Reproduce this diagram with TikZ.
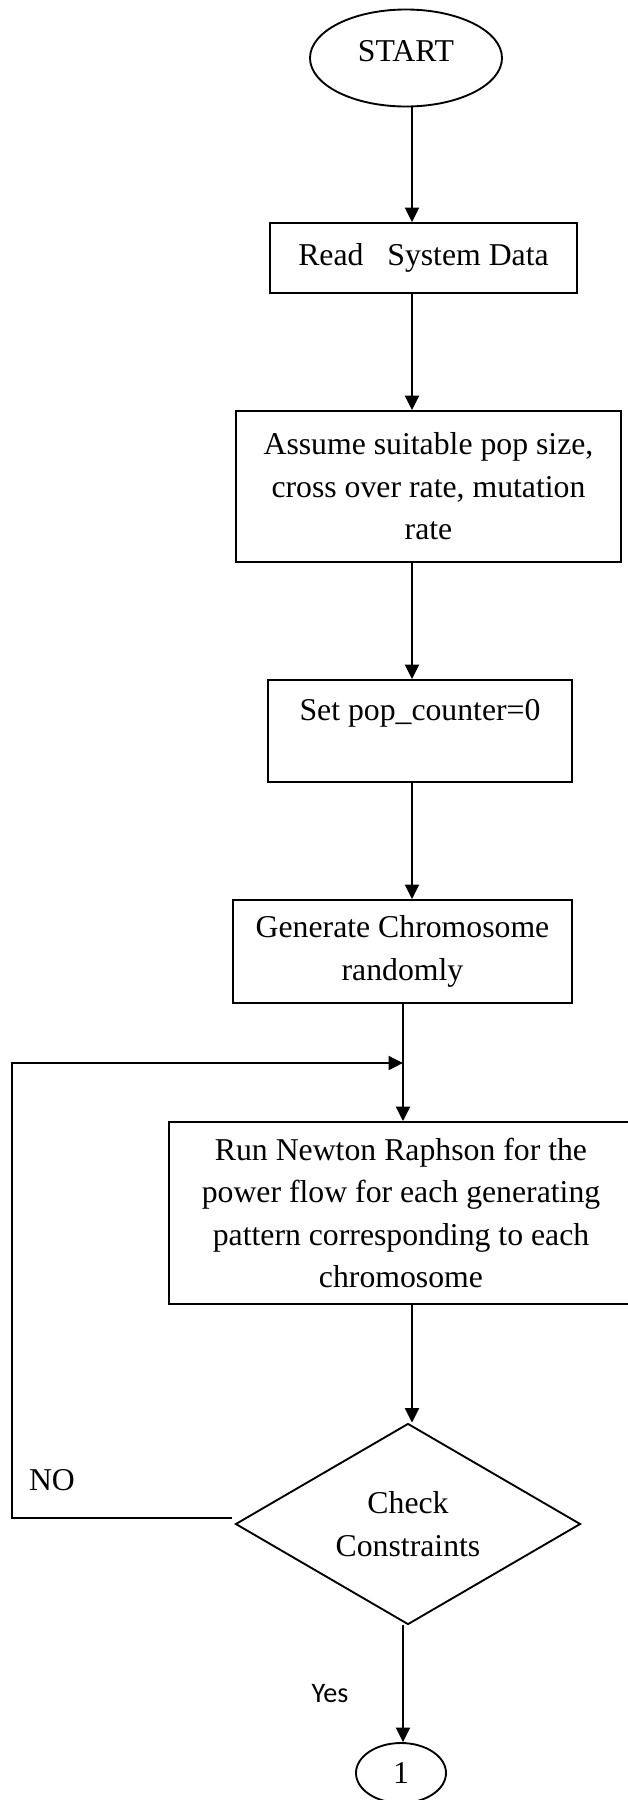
\documentclass[tikz,border=0pt]{standalone}
\usepackage{fontspec}
\setmainfont{Liberation Serif}
\newfontfamily\yesfont{Carlito}
\usetikzlibrary{shapes.geometric,arrows.meta}
\begin{document}
\begin{tikzpicture}[x=0.4pt,y=-0.4pt,
  every node/.style={font=\fontsize{12.7}{17}\selectfont},
  proc/.style={draw,line width=0.75pt,rectangle,align=center,inner sep=0pt},
  term/.style={draw,line width=0.75pt,ellipse,inner sep=0pt},
  decide/.style={draw,line width=0.75pt,diamond,shape aspect=1.7,align=center,inner sep=0pt},
  flow/.style={line width=0.8pt,-{Triangle[length=5.8pt,width=5.6pt]}}]
\useasboundingbox (0,0) rectangle (627,1800);

% main column guides
\coordinate (spine) at (412,0);
\coordinate (spineb) at (403,0);

% nodes
\node[term, minimum width=76.8pt, minimum height=38.8pt, text depth=5.6pt] (start) at (406,58) {START};
\node[proc, minimum width=122.8pt, minimum height=28pt] (read) at (423.5,258) {Read\ \ \ System Data};
\node[proc, minimum width=154pt, minimum height=60.4pt] (assume) at (428.5,486.5)
  {Assume suitable pop size,\\cross over rate, mutation\\rate};
\node[proc, minimum width=121.6pt, minimum height=40.8pt] (setc) at (420,731)
  {Set pop\_counter=0\\\mbox{}};
\node[proc, minimum width=135.6pt, minimum height=41.2pt] (gen) at (402.5,951.5)
  {Generate Chromosome\\randomly};
\node[proc, minimum width=185.6pt, minimum height=72.8pt] (run) at (401,1213)
  {Run Newton Raphson for the\\power flow for each generating\\pattern corresponding to each\\chromosome};
\node[decide, minimum width=138pt, minimum height=80.4pt] (chk) at (408,1524)
  {Check\\Constraints};
\node[term, minimum width=36pt, minimum height=24pt] (one) at (401,1773) {1};

% branch labels
\node (nolbl) at (52,1480) {NO};
\node[font=\yesfont\fontsize{11.3}{13}\selectfont] (yeslbl) at (330,1694) {Yes};

% connectors
\draw[flow] (spine |- start.south) -- (spine |- read.north);
\draw[flow] (spine |- read.south) -- (spine |- assume.north);
\draw[flow] (spine |- assume.south) -- (spine |- setc.north);
\draw[flow] (spine |- setc.south) -- (spine |- gen.north);
\draw[flow] (spineb |- gen.south) -- (spineb |- run.north);
\draw[flow] (spine |- run.south) -- (spine |- chk.north);
\draw[flow] (spineb |- chk.south) -- (spineb |- one.north);

% return path for failed constraints
\coordinate (corner) at (12,1063);
\coordinate (join) at (403,1063);
\draw[flow] ([xshift=-1.2pt,yshift=2.4pt]chk.west) -| (corner) -- (join);
\end{tikzpicture}
\end{document}
